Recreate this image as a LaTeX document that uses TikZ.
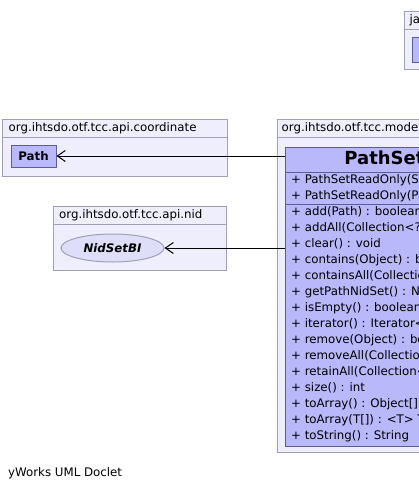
\documentclass[tikz,border=0pt]{standalone}
\usepackage{fontspec}
\setmainfont{DejaVu Sans}
\usetikzlibrary{arrows.meta,
  positioning,
  shapes.geometric
}
\definecolor{pkgfill}{RGB}{238,238,252}
\definecolor{pkgline}{RGB}{160,160,182}
\definecolor{clsfill}{RGB}{184,184,250}
\definecolor{clsline}{RGB}{92,92,150}
\definecolor{ifcfill}{RGB}{222,222,248}

\tikzstyle{package} = [draw=pkgline, fill=pkgfill, line width=1, inner sep=0, anchor=north west]
\tikzstyle{pkgname} = [anchor=west, inner sep=0, font=\fontsize{11.8}{14}\selectfont]
\tikzstyle{classbox} = [draw=clsline, fill=clsfill, line width=1, inner sep=0]
\tikzstyle{member} = [anchor=west, inner sep=0, font=\fontsize{11.8}{14}\selectfont]
\tikzstyle{depends} = [-{Straight Barb[length=8pt,width=11pt]}, line width=1]

\begin{document}
\begin{tikzpicture}[x=1pt, y=-1pt]
  \useasboundingbox (0,0) rectangle (419,491);
  \clip (0,0) rectangle (419,491);

  % packages
  \node[package, minimum width=60, minimum height=58] (utilpkg) at (404,11) {};
  \node[package, minimum width=225, minimum height=57] (coordpkg) at (2,119) {};
  \node[package, minimum width=173, minimum height=64] (nidpkg) at (53,206) {};
  \node[package, minimum width=200, minimum height=333] (modelpkg) at (277,119) {};
  \foreach \p in {utilpkg,coordpkg,nidpkg,modelpkg} {
    \draw[pkgline, line width=1] ([yshift=-18pt]\p.north west) -- ([yshift=-18pt]\p.north east);
  }
  \node[pkgname] (utilname) at ([xshift=5.5pt,yshift=-9pt]utilpkg.north west) {java.util};
  \node[pkgname] (coordname) at ([xshift=6.5pt,yshift=-9pt]coordpkg.north west) {org.ihtsdo.otf.tcc.api.coordinate};
  \node[pkgname] (nidname) at ([xshift=6pt,yshift=-9pt]nidpkg.north west) {org.ihtsdo.otf.tcc.api.nid};
  \node[pkgname] (modelname) at ([xshift=4.5pt,yshift=-9pt]modelpkg.north west) {org.ihtsdo.otf.tcc.model.cc.termstore};

  % classes
  \node[classbox, anchor=north west, minimum width=60, minimum height=25] (setclass) at (412,37) {};
  \node[classbox, minimum width=45, minimum height=22, font=\bfseries\fontsize{11.8}{14}\selectfont] (path) at (33.5,156) {Path};
  \node[ellipse, draw=pkgline, fill=ifcfill, line width=1, inner sep=0, minimum width=103, minimum height=28,
    font=\bfseries\itshape\fontsize{11.8}{14}\selectfont] (nidset) at (112.5,248) {NidSetBI};

  \node[classbox, anchor=north west, minimum width=295, minimum height=299] (pathset) at (285,147) {};
  \node[font=\bfseries\fontsize{18}{21}\selectfont, inner sep=0] (pathsetname) at ([yshift=-12.5pt]pathset.north) {PathSetReadOnly};
  \draw[clsline, line width=1] ([yshift=-25pt]pathset.north west) -- ([yshift=-25pt]pathset.north east);
  \draw[clsline, line width=1] ([yshift=-57pt]pathset.north west) -- ([yshift=-57pt]pathset.north east);

  \foreach \txt [count=\i from 0] in {{PathSetReadOnly(Set<Path>)},{PathSetReadOnly(Path[])}} {
    \node[member] (ctor\i) at (291, 180 + 16*\i) {+ \txt};
  }
  \foreach \txt [count=\i from 0] in {{add(Path) : boolean},
    {addAll(Collection<? extends Path>) : boolean},
    {clear() : void},
    {contains(Object) : boolean},
    {containsAll(Collection<?>) : boolean},
    {getPathNidSet() : NidSetBI},
    {isEmpty() : boolean},
    {iterator() : Iterator<Path>},
    {remove(Object) : boolean},
    {removeAll(Collection<?>) : boolean},
    {retainAll(Collection<?>) : boolean},
    {size() : int},
    {toArray() : Object[]},
    {toArray(T[]) : <T> T[]},
    {toString() : String}} {
    \node[member] (method\i) at (291, 212 + 16*\i) {+ \txt};
  }

  % dependencies
  \draw[depends] (pathset.west |- path.east) -- (path.east);
  \draw[depends] (pathset.west |- nidset.east) -- (nidset.east);

  \node[anchor=west, inner sep=0, font=\fontsize{11.8}{14}\selectfont] (doclet) at (8,473) {yWorks UML Doclet};
\end{tikzpicture}
\end{document}
